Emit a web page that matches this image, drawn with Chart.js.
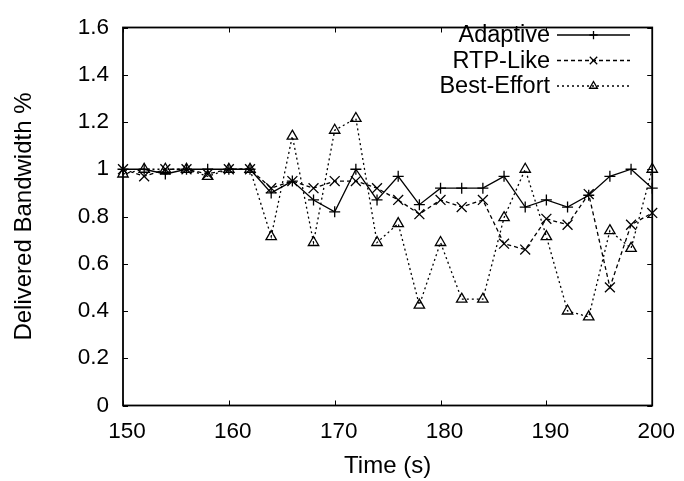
<!DOCTYPE html>
<html lang="en">
  <head>
    <meta charset="UTF-8" />
    <title>Delivered Bandwidth</title>
    <script src="https://cdn.jsdelivr.net/npm/chart.js"></script>
    <style>
      body { margin: 0; background: #fff; }
      canvas { display: block; }
    </style>
  </head>
<body>
    <canvas id="myChart" width="684" height="481"></canvas>

    <script>
      // time axis (s)
      const times = [150, 152, 154, 156, 158, 160, 162, 164, 166, 168, 170, 172, 174,
                     176, 178, 180, 182, 184, 186, 188, 190, 192, 194, 196, 198, 200];

      const adaptive = [1.0, 1.0, 0.98, 1.0, 1.0, 1.0, 1.0, 0.90, 0.95, 0.87, 0.82, 1.0, 0.87,
                        0.97, 0.85, 0.92, 0.92, 0.92, 0.97, 0.84, 0.87, 0.84, 0.89, 0.97, 1.0, 0.92];

      const rtpLike = [1.0, 0.97, 1.0, 1.0, 0.98, 1.0, 1.0, 0.92, 0.95, 0.92, 0.95, 0.95, 0.92,
                       0.87, 0.81, 0.87, 0.84, 0.87, 0.685, 0.66, 0.79, 0.765, 0.895, 0.50, 0.765, 0.815];

      const bestEffort = [0.98, 1.0, 1.0, 1.0, 0.97, 1.0, 1.0, 0.715, 1.14, 0.69, 1.165, 1.215, 0.69,
                          0.77, 0.425, 0.69, 0.45, 0.45, 0.795, 1.0, 0.715, 0.40, 0.375, 0.74, 0.665, 1.0];

      const xTicks = [150, 160, 170, 180, 190, 200];
      const yTicks = ['0', '0.2', '0.4', '0.6', '0.8', '1', '1.2', '1.4', '1.6'];

      const FONT = 'Liberation Sans, Arial, sans-serif';

      function points(values) {
        return times.map((t, i) => ({ x: t, y: values[i] }));
      }

      // gnuplot style box with inward ticks on all four sides
      const frame = {
        id: 'frame',
        beforeDatasetsDraw(chart) {
          const ctx = chart.ctx;
          const a = chart.chartArea;
          const xs = chart.scales.x, ys = chart.scales.y;
          const len = 5;
          ctx.save();
          ctx.strokeStyle = '#000';
          ctx.lineWidth = 1.8;
          ctx.strokeRect(a.left, a.top, a.right - a.left, a.bottom - a.top);
          ctx.lineWidth = 1;
          ctx.beginPath();
          xTicks.forEach(v => {
            const px = Math.round(xs.getPixelForValue(v)) + 0.5;
            ctx.moveTo(px, a.bottom); ctx.lineTo(px, a.bottom - len);
            ctx.moveTo(px, a.top); ctx.lineTo(px, a.top + len);
          });
          yTicks.forEach(s => {
            const py = Math.round(ys.getPixelForValue(parseFloat(s))) + 0.5;
            ctx.moveTo(a.left, py); ctx.lineTo(a.left + len, py);
            ctx.moveTo(a.right, py); ctx.lineTo(a.right - len, py);
          });
          ctx.stroke();
          ctx.restore();
        }
      };

      // legend: text right aligned, sample line with marker on the right
      const keyBox = {
        id: 'keyBox',
        afterDraw(chart) {
          const ctx = chart.ctx;
          ctx.save();
          ctx.font = '23.5px ' + FONT;
          ctx.textAlign = 'right';
          ctx.textBaseline = 'middle';
          chart.data.datasets.forEach((ds, i) => {
            const y = 35 + i * 25.5;
            ctx.fillStyle = '#000';
            ctx.fillText(ds.label, 550, y + 1);
            ctx.strokeStyle = '#000';
            ctx.lineWidth = ds.borderWidth;
            ctx.setLineDash(ds.borderDash || []);
            ctx.beginPath();
            ctx.moveTo(557, y); ctx.lineTo(630, y);
            ctx.stroke();
            ctx.setLineDash([]);
            ctx.fillStyle = 'rgba(0,0,0,0)';
            Chart.helpers.drawPoint(ctx, {
              pointStyle: ds.pointStyle,
              radius: ds.pointRadius * 0.75,
              borderWidth: ds.pointBorderWidth,
              rotation: 0
            }, 593.5, y);
          });
          ctx.restore();
        }
      };

      const chart = new Chart(document.getElementById('myChart').getContext('2d'), {
        type: 'line',
        data: {
          datasets: [{
            label: 'Adaptive',
            data: points(adaptive),
            borderColor: '#000',
            backgroundColor: 'transparent',
            borderWidth: 1.3,
            pointStyle: 'cross',
            pointRadius: 5.5,
            pointBorderWidth: 1.3,
            pointBorderColor: '#000',
            pointBackgroundColor: 'transparent',
            tension: 0,
            clip: false
          }, {
            label: 'RTP-Like',
            data: points(rtpLike),
            borderColor: '#000',
            backgroundColor: 'transparent',
            borderWidth: 1.3,
            borderDash: [4, 3],
            pointStyle: 'crossRot',
            pointRadius: 7,
            pointBorderWidth: 1.3,
            pointBorderColor: '#000',
            pointBackgroundColor: 'transparent',
            tension: 0,
            clip: false
          }, {
            label: 'Best-Effort',
            data: points(bestEffort),
            borderColor: '#000',
            backgroundColor: 'transparent',
            borderWidth: 1.3,
            borderDash: [2, 3],
            pointStyle: 'triangle',
            pointRadius: 6,
            pointBorderWidth: 1.3,
            pointBorderColor: '#000',
            pointBackgroundColor: 'transparent',
            tension: 0,
            clip: false
          }]
        },
        options: {
          responsive: false,
          devicePixelRatio: 1,
          animation: false,
          layout: { padding: { top: 17.5, right: 24, left: 0, bottom: 0 } },
          plugins: {
            legend: { display: false },
            tooltip: { enabled: false }
          },
          scales: {
            x: {
              type: 'linear',
              min: 150,
              max: 200,
              afterFit(scale) { scale.height = 75.5; },
              afterBuildTicks(scale) { scale.ticks = xTicks.map(v => ({ value: v })); },
              grid: { display: false, drawTicks: false },
              border: { display: false },
              ticks: {
                padding: 13,
                labelOffset: 4,
                color: '#000',
                font: { family: FONT, size: 22.5 },
                maxRotation: 0,
                autoSkip: false
              },
              title: {
                display: true,
                text: 'Time (s)',
                color: '#000',
                font: { family: FONT, size: 24 },
                padding: { top: 0.5, bottom: 0 }
              }
            },
            y: {
              min: 0,
              max: 1.6,
              afterFit(scale) { scale.width = 123; },
              afterBuildTicks(scale) { scale.ticks = yTicks.map(s => ({ value: parseFloat(s) })); },
              grid: { display: false, drawTicks: false },
              border: { display: false },
              ticks: {
                padding: 14,
                color: '#000',
                font: { family: FONT, size: 22.5 },
                callback: (v, i) => yTicks[i]
              },
              title: {
                display: true,
                text: 'Delivered Bandwidth %',
                color: '#000',
                font: { family: FONT, size: 24 },
                padding: { top: 10, bottom: 0 }
              }
            }
          }
        },
        plugins: [frame, keyBox]
      });
    </script>
  </body>
</html>
